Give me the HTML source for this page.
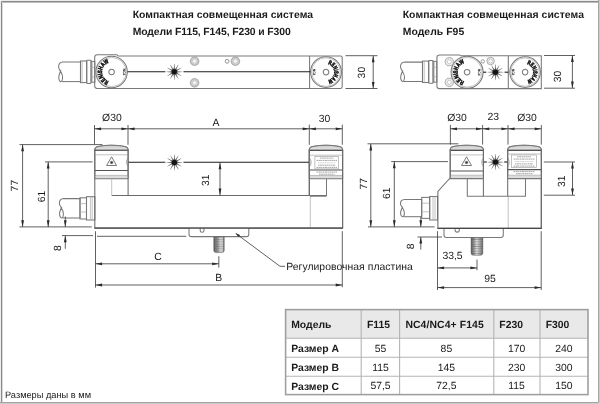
<!DOCTYPE html>
<html>
<head>
<meta charset="utf-8">
<title>NC4 F-series dimensions</title>
<style>
html,body{margin:0;padding:0;background:#fff;}
body{width:600px;height:404px;overflow:hidden;font-family:"Liberation Sans",sans-serif;}
svg{display:block;position:absolute;left:0;top:0;filter:grayscale(1) blur(0.3px);}
text{font-family:"Liberation Sans",sans-serif;fill:#1a1a1a;text-rendering:geometricPrecision;}
.b{font-weight:bold;}
.t{font-size:10.4px;}
.d{stroke:#383838;stroke-width:0.8;fill:none;}
.o{stroke:#787878;stroke-width:1.05;fill:none;}
.od{stroke:#6a6a6a;stroke-width:1.05;fill:none;}
.hd{stroke:#525252;stroke-width:1.1;fill:none;}
.l{stroke:#a8a8a8;stroke-width:0.7;fill:none;}
.beam{stroke:#1c1c1c;stroke-width:1.1;fill:none;}
.ah{fill:#2a2a2a;stroke:none;}
.w{fill:#fff;}
</style>
</head>
<body>
<svg width="600" height="404" viewBox="0 0 600 404">
<defs>
  <!-- laser star symbol -->
  <path id="ray" d="M-0.6,-2.4 L0.6,-2.4 L0.14,-8 L-0.14,-8 Z"/>
  <g id="star">
    <g fill="#606060"><use href="#ray" transform="rotate(0)"/><use href="#ray" transform="rotate(30)"/><use href="#ray" transform="rotate(60)"/><use href="#ray" transform="rotate(90)"/><use href="#ray" transform="rotate(120)"/><use href="#ray" transform="rotate(150)"/><use href="#ray" transform="rotate(180)"/><use href="#ray" transform="rotate(210)"/><use href="#ray" transform="rotate(240)"/><use href="#ray" transform="rotate(270)"/><use href="#ray" transform="rotate(300)"/><use href="#ray" transform="rotate(330)"/></g>
    <circle r="3.5" fill="#666" opacity="0.5"/>
    <circle r="2.7" fill="#141414"/>
  </g>
  <!-- warning triangle -->
  <g id="tri">
    <path d="M0,-4.8 L5,3.9 L-5,3.9 Z" fill="#fff" stroke="#5a5a5a" stroke-width="0.8" stroke-linejoin="round"/>
    <circle cx="0" cy="1" r="1.25" fill="#222"/>
    <circle cx="0" cy="1" r="2" fill="#777" opacity="0.35"/>
  </g>
  <radialGradient id="hole"><stop offset="0" stop-color="#fff"/><stop offset="0.22" stop-color="#f4f4f4"/><stop offset="0.4" stop-color="#d6d6d6"/><stop offset="0.8" stop-color="#c6c6c6"/><stop offset="1" stop-color="#a2a2a2"/></radialGradient>
  <linearGradient id="studg" x1="0" x2="1" y1="0" y2="0"><stop offset="0" stop-color="#505050"/><stop offset="0.12" stop-color="#7a7a7a"/><stop offset="0.3" stop-color="#a6a6a6"/><stop offset="0.48" stop-color="#dedede"/><stop offset="0.68" stop-color="#b4b4b4"/><stop offset="0.88" stop-color="#8e8e8e"/><stop offset="1" stop-color="#5a5a5a"/></linearGradient>
  <linearGradient id="studg2" x1="0" x2="1" y1="0" y2="0"><stop offset="0" stop-color="#4a4a4a"/><stop offset="0.1" stop-color="#777"/><stop offset="0.35" stop-color="#8e8e8e"/><stop offset="0.5" stop-color="#b0b0b0"/><stop offset="0.62" stop-color="#d4d4d4"/><stop offset="0.85" stop-color="#c6c6c6"/><stop offset="0.93" stop-color="#8a8a8a"/><stop offset="1" stop-color="#505050"/></linearGradient>
  <linearGradient id="domeg" x1="0" x2="0" y1="0" y2="1"><stop offset="0" stop-color="#cacaca"/><stop offset="1" stop-color="#e6e6e6"/></linearGradient>
  <pattern id="thr" width="4" height="2.3" patternUnits="userSpaceOnUse"><rect width="4" height="0.7" fill="#444" opacity="0.45"/></pattern>
  <path id="arcL" d="M -2.9,9.1 A 9.55,9.55 0 0 1 -2.9,-9.1"/>
  <path id="arcR" d="M 1.98,-7.96 A 8.2,8.2 0 0 1 2.26,7.88"/>
</defs>

<rect x="0" y="0" width="600" height="404" fill="#fff"/>

<!-- ======== TITLES ======== -->
<text class="b t" x="132.7" y="18.3" textLength="180.3" lengthAdjust="spacing">Компактная совмещенная система</text>
<text class="b t" x="132.7" y="35" textLength="158" lengthAdjust="spacing">Модели F115, F145, F230 и F300</text>
<text class="b t" x="402.7" y="18.3" textLength="181.3" lengthAdjust="spacing">Компактная совмещенная система</text>
<text class="b t" x="402.7" y="35" textLength="61.5" lengthAdjust="spacing">Модель F95</text>

<!-- ======== LEFT TOP VIEW ======== -->
<g id="topL">
  <!-- cable -->
  <path class="o" d="M80.5,81.6 V62.0 H62.8 Q58.6,62.2 58.6,66.9 C58.6,69.8 62.8,72.8 62.6,77.3 C62.5,80.0 61.8,81.6 60.8,81.6 C59.4,81.6 58.7,79.2 58.8,76.7 C59.0,73.8 60.4,71.8 61.0,70.3"/>
  <path class="o" d="M62.0,81.6 H80.5"/>
  <rect class="o" x="80.5" y="61" width="6.2" height="21.6"/>
  <line class="l" x1="82.1" y1="61" x2="82.1" y2="82.6"/>
  <rect class="o" x="86.7" y="60.2" width="4.4" height="23.2" rx="0.8"/>
  <rect class="o" x="91.1" y="61.4" width="3.7" height="20.8"/>
  <line class="l" x1="92.3" y1="61.4" x2="92.3" y2="82.2"/>
  <line class="l" x1="91.1" y1="67.5" x2="94.8" y2="67.5"/>
  <line class="l" x1="91.1" y1="77" x2="94.8" y2="77"/>
  <!-- bar -->
  <path class="o" d="M118,56 H340.6 Q342.2,56 342.2,57.6 V86.8 Q342.2,88.4 340.6,88.4 H97 Q94.7,88.4 94.7,86.1 V57.2 Q94.7,54.7 97.4,54.7 H117 L118,56"/>
  <line class="o" x1="309.6" y1="56" x2="309.6" y2="88.4"/>
  <!-- left dial -->
  <g transform="translate(111.6,72)">
    <circle class="o" r="15.7"/>
    <circle class="l" r="14.6"/>
    <circle class="o" r="2.8" stroke-width="0.7"/>
    <text font-size="6.1" font-weight="bold" fill="#111" stroke="#111" stroke-width="0.6" textLength="24" lengthAdjust="spacingAndGlyphs"><textPath href="#arcL" startOffset="0">RENISHAW</textPath></text>
    <text font-size="3.4" fill="#333" stroke="#333" stroke-width="0.15" transform="translate(11,0) rotate(90)" text-anchor="middle">NC4</text>
  </g>
  <!-- right dial -->
  <g transform="translate(326,72.1)">
    <circle class="o" r="15.4"/>
    <circle class="l" r="14.3"/>
    <circle class="o" r="2.8" stroke-width="0.7"/>
    <text font-size="6.1" font-weight="bold" fill="#111" stroke="#111" stroke-width="0.6" textLength="21.5" lengthAdjust="spacingAndGlyphs"><textPath href="#arcR" startOffset="0">RENISHAW</textPath></text>
    <text font-size="3.4" fill="#333" stroke="#333" stroke-width="0.15" transform="translate(-13.2,0) rotate(90)" text-anchor="middle">NC4</text>
  </g>
  <!-- beam -->
  <line class="beam" x1="127.5" y1="71.7" x2="165.3" y2="71.7"/>
  <line class="beam" x1="183.5" y1="71.7" x2="310.4" y2="71.7"/>
  <use href="#star" x="174.3" y="71.8"/>
  <!-- holes -->
  <g fill="url(#hole)" stroke="#9a9a9a" stroke-width="0.5">
    <circle cx="194.6" cy="61.2" r="4.4"/><circle cx="194.6" cy="82.8" r="4.4"/><circle cx="235.4" cy="61.2" r="4.4"/>
  </g>
  <circle cx="227.1" cy="61.3" r="1.9" fill="#fff" stroke="#777" stroke-width="0.8"/>
  <!-- dim 30 -->
  <line class="d" x1="345.5" y1="55.7" x2="377.5" y2="55.7"/>
  <line class="d" x1="345.5" y1="88.5" x2="377.5" y2="88.5"/>
  <line class="d" x1="373.2" y1="55.7" x2="373.2" y2="88.5"/>
  <path class="ah" d="M373.2,55.7 l-1.4,6.6 h2.8z M373.2,88.5 l-1.4,-6.6 h2.8z"/>
  <text class="t" transform="translate(364.8,72.6) rotate(-90)" text-anchor="middle">30</text>
</g>

<!-- ======== LEFT SIDE VIEW ======== -->
<g id="sideL">
  <!-- cable -->
  <path class="o" d="M80.0,218.0 V198.6 H63.6 Q59.4,198.8 59.4,203.4 C59.4,206.4 63.6,209.3 63.4,213.7 C63.3,216.4 62.6,218.0 61.6,218.0 C60.2,218.0 59.5,215.7 59.6,213.2 C59.8,210.2 61.2,208.3 61.8,206.9"/>
  <path class="o" d="M62.8,218.0 H80.0"/>
  <rect class="o" x="80" y="197.8" width="6.5" height="21.2"/>
  <line class="l" x1="80" y1="203.6" x2="86.5" y2="203.6"/>
  <line class="l" x1="80" y1="212" x2="86.5" y2="212"/>
  <rect class="o" x="86.5" y="196.7" width="8.4" height="23.3"/>
  <line class="l" x1="90.4" y1="196.7" x2="90.4" y2="220"/>
  <line class="l" x1="92.2" y1="196.7" x2="92.2" y2="220"/>

  <!-- transmitter head -->
  <path class="o w" d="M94.8,178.8 V150 Q94.8,147 98.2,146.4 Q111.4,144.3 124.7,146.4 Q128.1,147 128.1,150 V178.8"/>
  <path d="M94.8,150.2 Q94.8,147 98.2,146.4 Q111.4,144.3 124.7,146.4 Q128.1,147 128.1,150.2 Z" fill="url(#domeg)" stroke="#787878" stroke-width="1.05"/>
  <rect x="95.2" y="175.6" width="32.5" height="3.2" fill="#dcdcdc"/>
  <line class="hd" x1="94.8" y1="150.2" x2="128.1" y2="150.2"/>
  <line class="l" x1="94.8" y1="154.8" x2="128.1" y2="154.8"/>
  <line class="hd" x1="94.8" y1="170.5" x2="128.1" y2="170.5"/>
  <line class="l" x1="94.8" y1="175.4" x2="128.1" y2="175.4"/>
  <line class="o" x1="94.8" y1="178.8" x2="128.1" y2="178.8"/>
  <use href="#tri" x="111.6" y="161.6"/>
  <path d="M128.1,158.2 Q124.6,162.2 128.1,166.3 Z" fill="#e4e4e4" stroke="#888" stroke-width="0.6"/>
  <!-- body and bar -->
  <path class="od" d="M94.8,149.5 V228 H342.6 V149.5"/>
  <line class="od" x1="128.1" y1="149.5" x2="128.1" y2="195.4"/>
  <line class="od" x1="111.7" y1="195.4" x2="326.5" y2="195.4"/>
  <line class="l" x1="111.7" y1="178.8" x2="111.7" y2="195.4"/>
  <line class="od" x1="309.3" y1="149.5" x2="309.3" y2="195.4"/>
  <line class="l" x1="310.3" y1="195.4" x2="310.3" y2="228"/>
  <line class="o" x1="326.5" y1="178.8" x2="326.5" y2="196"/>
  <line class="o" x1="310" y1="196.2" x2="326.5" y2="196.2"/>

  <!-- receiver head -->
  <path class="o w" d="M309.3,178.8 V150 Q309.3,147 312.7,146.4 Q326.0,144.3 339.2,146.4 Q342.6,147 342.6,150 V178.8"/>
  <path d="M309.3,150.2 Q309.3,147 312.7,146.4 Q326.0,144.3 339.2,146.4 Q342.6,147 342.6,150.2 Z" fill="url(#domeg)" stroke="#787878" stroke-width="1.05"/>
  <rect x="309.7" y="175.7" width="32.5" height="3.1" fill="#dcdcdc"/>
  <line class="hd" x1="309.3" y1="150.4" x2="342.6" y2="150.4"/>
  <line class="l" x1="309.3" y1="155.2" x2="342.6" y2="155.2"/>
  <line class="hd" x1="309.3" y1="170" x2="342.6" y2="170"/>
  <line class="l" x1="309.3" y1="175.5" x2="342.6" y2="175.5"/>
  <line class="o" x1="309.3" y1="178.8" x2="342.6" y2="178.8"/>
  <rect x="314.9" y="156.6" width="23.5" height="12.3" fill="#fff" stroke="#999" stroke-width="0.6"/>
  <g stroke="#666" stroke-width="0.6" stroke-dasharray="1.6 0.5 2.2 0.4 1.2 0.5">
    <line x1="320" y1="158.1" x2="333.5" y2="158.1"/>
    <line x1="316.5" y1="160.4" x2="337" y2="160.4"/>
    <line x1="318" y1="165.2" x2="335.5" y2="165.2"/>
    <line x1="316.5" y1="167.4" x2="337" y2="167.4"/>
    <line x1="316.5" y1="172.1" x2="337" y2="172.1"/>
    <line x1="319" y1="174.2" x2="334.5" y2="174.2"/>
  </g>
  <line x1="318" y1="162.8" x2="335.5" y2="162.8" stroke="#bbb" stroke-width="0.6" stroke-dasharray="1.6 0.5 2.2 0.4"/>
  <path d="M309.3,157.8 Q313.2,162.3 309.3,167 Z" fill="#e4e4e4" stroke="#888" stroke-width="0.6"/>
  <path class="od" d="M309.3,149.5 V195.4 M342.6,149.5 V228"/>

  <!-- beam -->
  <line class="beam" x1="128.6" y1="162.3" x2="165.3" y2="162.3"/>
  <line class="beam" x1="183.5" y1="162.3" x2="308.9" y2="162.3"/>
  <use href="#star" x="174.4" y="162.4"/>

  <!-- adjuster plate -->
  <path class="o w" d="M189,228.2 V234.2 Q189,236.6 191.4,236.6 H246.4 Q248.8,236.6 248.8,234.2 V228.2"/>
  <path class="o" d="M200.2,228.2 V230.4 Q200.2,232.2 202.1,232.2 Q204,232.2 204,230.4 V228.2" stroke-width="0.8"/>
  <line x1="94.4" y1="228.1" x2="343" y2="228.1" stroke="#484848" stroke-width="1.35"/>
  <!-- stud -->
  <path d="M213.8,237 H224.2 V250.3 Q224.2,252.6 221.9,252.6 H216.1 Q213.8,252.6 213.8,250.3 Z" fill="url(#studg2)" stroke="#555" stroke-width="0.5"/>
  <rect x="214" y="237.8" width="10" height="14" fill="url(#thr)" opacity="0.6"/>

  <!-- dimension lines -->
  <!-- top O30 / A / 30 -->
  <line class="d" x1="94.5" y1="125" x2="94.5" y2="144.4"/>
  <line class="d" x1="128" y1="125" x2="128" y2="144.8"/>
  <line class="d" x1="309.3" y1="124.6" x2="309.3" y2="144.8"/>
  <line class="d" x1="342.3" y1="124.6" x2="342.3" y2="144.8"/>
  <line class="d" x1="94.5" y1="128.8" x2="342.3" y2="128.8"/>
  <path class="ah" d="M94.5,128.8 l6.6,-1.4 v2.8z M128,128.8 l-6.6,-1.4 v2.8z M128,128.8 l6.6,-1.4 v2.8z M309.3,128.8 l-6.6,-1.4 v2.8z M309.3,128.8 l6.6,-1.4 v2.8z M342.3,128.8 l-6.6,-1.4 v2.8z"/>
  <text class="t" x="111.9" y="121.3" text-anchor="middle">Ø30</text>
  <text class="t" x="216" y="125.5" text-anchor="middle">A</text>
  <text class="t" x="324.6" y="121.6" text-anchor="middle">30</text>
  <!-- 77 -->
  <line class="d" x1="19.5" y1="144.6" x2="102.5" y2="144.6"/>
  <line class="d" x1="19.5" y1="226.9" x2="91.8" y2="226.9"/>
  <line class="d" x1="22.6" y1="144.6" x2="22.6" y2="226.9"/>
  <path class="ah" d="M22.6,144.6 l-1.4,6.6 h2.8z M22.6,226.9 l-1.4,-6.6 h2.8z"/>
  <text class="t" transform="translate(18.2,185.6) rotate(-90)" text-anchor="middle">77</text>
  <!-- 61 -->
  <line class="d" x1="45" y1="161.9" x2="92.6" y2="161.9"/>
  <line class="d" x1="48.2" y1="161.9" x2="48.2" y2="226.9"/>
  <path class="ah" d="M48.2,161.9 l-1.4,6.6 h2.8z M48.2,226.9 l-1.4,-6.6 h2.8z"/>
  <text class="t" transform="translate(44.9,196.4) rotate(-90)" text-anchor="middle">61</text>
  <!-- 8 -->
  <line class="d" x1="65.3" y1="216.5" x2="65.3" y2="226.9"/>
  <path class="ah" d="M65.3,226.9 l-1.4,-6.6 h2.8z"/>
  <line class="d" x1="62" y1="235.6" x2="93" y2="235.6"/>
  <line class="d" x1="97" y1="236.3" x2="186.3" y2="236.3"/>
  <line class="d" x1="65.3" y1="235.6" x2="65.3" y2="248.8"/>
  <path class="ah" d="M65.3,235.6 l-1.4,6.6 h2.8z"/>
  <text class="t" transform="translate(61,248.2) rotate(-90)" text-anchor="middle">8</text>
  <!-- 31 -->
  <line class="d" x1="220" y1="162.6" x2="220" y2="195.2"/>
  <path class="ah" d="M220,162.7 l-1.4,6.6 h2.8z M220,195.2 l-1.4,-6.6 h2.8z"/>
  <text class="t" transform="translate(209.2,180.2) rotate(-90)" text-anchor="middle">31</text>
  <!-- C, B -->
  <line class="d" x1="95.5" y1="231.2" x2="95.5" y2="287.6"/>
  <line class="d" x1="342.3" y1="231.2" x2="342.3" y2="287.2"/>
  <line class="d" x1="95.5" y1="263.8" x2="218.8" y2="263.8"/>
  <line class="d" x1="218.8" y1="256.2" x2="218.8" y2="267.6"/>
  <path class="ah" d="M95.5,263.8 l6.6,-1.4 v2.8z M218.8,263.8 l-6.6,-1.4 v2.8z"/>
  <line class="d" x1="95.5" y1="285" x2="342.3" y2="285"/>
  <path class="ah" d="M95.5,285 l6.6,-1.4 v2.8z M342.3,285 l-6.6,-1.4 v2.8z"/>
  <text class="t" x="158" y="259.8" text-anchor="middle">C</text>
  <text class="t" x="218.8" y="281.2" text-anchor="middle">B</text>
  <!-- leader -->
  <path class="d" d="M236.4,233.9 L280,266.3 H285"/>
  <path class="ah" d="M235.2,233 l4.8,2 l-1.4,1.9z"/>
  <text class="t" x="286.2" y="270" textLength="126.6" lengthAdjust="spacing">Регулировочная пластина</text>
</g>

<!-- ======== RIGHT TOP VIEW (F95) ======== -->
<g id="topR">
  <path class="o" d="M422.5,81.5 V62.1 H404.7 Q400.5,62.3 400.5,67.0 C400.5,69.9 404.7,72.8 404.5,77.2 C404.4,79.9 403.7,81.5 402.7,81.5 C401.3,81.5 400.6,79.2 400.7,76.7 C400.9,73.7 402.3,71.8 402.9,70.4"/>
  <path class="o" d="M403.9,81.5 H422.5"/>
  <rect class="o" x="422.5" y="61.1" width="6.2" height="21.4"/>
  <line class="l" x1="424.2" y1="61.1" x2="424.2" y2="82.5"/>
  <rect class="o" x="428.7" y="60.4" width="4.4" height="22.8" rx="0.8"/>
  <rect class="o" x="433.1" y="61.4" width="3.7" height="20.8"/>
  <line class="l" x1="434.3" y1="61.4" x2="434.3" y2="82.2"/>
  <line class="l" x1="433.1" y1="67.3" x2="436.8" y2="67.3"/>
  <line class="l" x1="433.1" y1="76.8" x2="436.8" y2="76.8"/>
  <path class="o" d="M460.5,55.7 H541.3 V88.6 H439.2 Q436.9,88.6 436.9,86.3 V57.4 Q436.9,54.9 439.6,54.9 H459.5 L460.5,55.7"/>
  <line class="o" x1="508.3" y1="55.7" x2="508.3" y2="88.6"/>
  <g transform="translate(467.1,72.2)">
    <circle class="o" r="16"/>
    <circle class="l" r="14.9"/>
    <circle class="o" r="2.8" stroke-width="0.7"/>
    <text font-size="6.1" font-weight="bold" fill="#111" stroke="#111" stroke-width="0.6" textLength="24" lengthAdjust="spacingAndGlyphs"><textPath href="#arcL" startOffset="0">RENISHAW</textPath></text>
    <text font-size="3.4" fill="#333" stroke="#333" stroke-width="0.15" transform="translate(11,0) rotate(90)" text-anchor="middle">NC4</text>
  </g>
  <g transform="translate(525.1,72.1)">
    <circle class="o" r="15.3"/>
    <circle class="l" r="14.2"/>
    <circle class="o" r="2.8" stroke-width="0.7"/>
    <text font-size="6.1" font-weight="bold" fill="#111" stroke="#111" stroke-width="0.6" textLength="21.5" lengthAdjust="spacingAndGlyphs"><textPath href="#arcR" startOffset="0">RENISHAW</textPath></text>
    <text font-size="3.4" fill="#333" stroke="#333" stroke-width="0.15" transform="translate(-13.2,0) rotate(90)" text-anchor="middle">NC4</text>
  </g>
  <g fill="#ececec" stroke="#999" stroke-width="0.8">
    <circle cx="449.3" cy="61.7" r="4.1"/><circle cx="449.3" cy="82.3" r="4.1"/><circle cx="490.6" cy="61" r="3.7"/>
  </g>
  <g fill="#fff" stroke="#b0b0b0" stroke-width="0.6">
    <circle cx="449.3" cy="61.7" r="2"/><circle cx="449.3" cy="82.3" r="2"/><circle cx="490.6" cy="61" r="1.9"/>
  </g>
  <circle cx="482.8" cy="61.4" r="1.7" fill="#fff" stroke="#777" stroke-width="0.7"/>
  <line class="beam" x1="483.2" y1="72.2" x2="486.2" y2="72.2"/>
  <line class="beam" x1="504.6" y1="72.2" x2="508.4" y2="72.2"/>
  <use href="#star" x="495.4" y="72.2"/>
  <line class="d" x1="544" y1="55.5" x2="575" y2="55.5"/>
  <line class="d" x1="544" y1="88.2" x2="575" y2="88.2"/>
  <line class="d" x1="572.4" y1="55.5" x2="572.4" y2="88.2"/>
  <path class="ah" d="M572.4,55.5 l-1.4,6.6 h2.8z M572.4,88.2 l-1.4,-6.6 h2.8z"/>
  <text class="t" transform="translate(561.4,76.5) rotate(-90)" text-anchor="middle">30</text>
</g>

<!-- ======== RIGHT SIDE VIEW (F95) ======== -->
<g id="sideR">
  <!-- cable -->
  <path class="o" d="M421.7,216.7 V199.4 H404.6 Q400.4,199.6 400.4,203.7 C400.4,206.3 404.6,208.9 404.4,212.9 C404.3,215.3 403.6,216.7 402.6,216.7 C401.2,216.7 400.5,214.6 400.6,212.4 C400.8,209.8 402.2,208.1 402.8,206.8"/>
  <path class="o" d="M403.8,216.7 H421.7"/>
  <rect class="o" x="421.7" y="197.4" width="8" height="21"/>
  <line class="l" x1="421.7" y1="203.2" x2="429.7" y2="203.2"/>
  <line class="l" x1="421.7" y1="211.8" x2="429.7" y2="211.8"/>
  <rect class="o" x="429.7" y="196.5" width="7.8" height="23.5"/>
  <line class="l" x1="433" y1="196.5" x2="433" y2="220"/>
  <line class="l" x1="435" y1="196.5" x2="435" y2="220"/>

  <!-- body -->
  <path class="od" d="M450.2,178.2 L448.2,180 L437.9,191.4 V228.3 H541.3 V149.5"/>
  <line class="l" x1="508.2" y1="196.2" x2="508.2" y2="228.3"/>
  <path class="od" d="M483.4,178.6 V196.2 M507.7,178.6 V196.2"/>
  <path class="o" d="M467.3,178.6 V196.2 H525.5 V178.6"/>

  <!-- transmitter head -->
  <path class="o w" d="M450.2,178.6 V150 Q450.2,147 453.6,146.4 Q466.8,144.3 480.0,146.4 Q483.4,147 483.4,150 V178.6"/>
  <path d="M450.2,150.2 Q450.2,147 453.6,146.4 Q466.8,144.3 480.0,146.4 Q483.4,147 483.4,150.2 Z" fill="url(#domeg)" stroke="#787878" stroke-width="1.05"/>
  <rect x="450.6" y="175.4" width="32.4" height="3.2" fill="#dcdcdc"/>
  <line class="hd" x1="450.2" y1="150.4" x2="483.4" y2="150.4"/>
  <line class="l" x1="450.2" y1="154.9" x2="483.4" y2="154.9"/>
  <line class="hd" x1="450.2" y1="171" x2="483.4" y2="171"/>
  <line class="l" x1="450.2" y1="175.2" x2="483.4" y2="175.2"/>
  <line class="o" x1="450.2" y1="178.6" x2="483.4" y2="178.6"/>
  <use href="#tri" x="466.5" y="161.6"/>
  <path d="M483.4,158 Q479.9,162 483.4,166.2 Z" fill="#e4e4e4" stroke="#888" stroke-width="0.6"/>
  <path class="od" d="M450.2,149.5 V178.6 M483.4,149.5 V178.6"/>

  <!-- receiver head -->
  <path class="o w" d="M507.7,178.6 V150 Q507.7,147 510.6,146.4 Q524.2,144.3 537.9,146.4 Q541.3,147 541.3,150 V178.6"/>
  <path d="M507.7,150.2 Q507.7,147 511.1,146.4 Q524.5,144.3 537.9,146.4 Q541.3,147 541.3,150.2 Z" fill="url(#domeg)" stroke="#787878" stroke-width="1.05"/>
  <rect x="507.6" y="175.4" width="33.3" height="3.2" fill="#dcdcdc"/>
  <line class="hd" x1="507.7" y1="150.4" x2="541.3" y2="150.4"/>
  <line class="l" x1="507.7" y1="154" x2="541.3" y2="154"/>
  <line class="hd" x1="507.7" y1="169.6" x2="541.3" y2="169.6"/>
  <line class="l" x1="507.7" y1="175.2" x2="541.3" y2="175.2"/>
  <line class="o" x1="507.7" y1="178.6" x2="541.3" y2="178.6"/>
  <rect x="511.6" y="155" width="25" height="12.6" fill="#fff" stroke="#999" stroke-width="0.6"/>
  <g stroke="#666" stroke-width="0.6" stroke-dasharray="1.6 0.5 2.2 0.4 1.2 0.5">
    <line x1="517" y1="156.8" x2="531" y2="156.8"/>
    <line x1="513.5" y1="159.1" x2="535" y2="159.1"/>
    <line x1="515" y1="163.9" x2="533" y2="163.9"/>
    <line x1="513.5" y1="166.1" x2="535" y2="166.1"/>
    <line x1="513.5" y1="171.6" x2="535" y2="171.6"/>
    <line x1="516" y1="173.7" x2="532.5" y2="173.7"/>
  </g>
  <line x1="515" y1="161.5" x2="533" y2="161.5" stroke="#bbb" stroke-width="0.6" stroke-dasharray="1.6 0.5 2.2 0.4"/>
  <path d="M507.7,157.8 Q510.9,162.2 507.7,166.8 Z" fill="#e4e4e4" stroke="#888" stroke-width="0.6"/>
  <path class="od" d="M507.7,149.5 V178.6 M541.3,149.5 V228.3"/>

  <!-- beam -->
  <line class="beam" x1="483.8" y1="162" x2="486.8" y2="162"/>
  <line class="beam" x1="504.2" y1="162" x2="507.4" y2="162"/>
  <use href="#star" x="495.5" y="162.1"/>

  <!-- plate -->
  <path class="o w" d="M444,228.4 V235.1 Q444,237.5 446.4,237.5 H500.9 Q503.3,237.5 503.3,235.1 V228.4"/>
  <path class="o" d="M455.1,228.4 V230.3 Q455.1,232.1 457.2,232.1 Q459.3,232.1 459.3,230.3 V228.4" stroke-width="0.8"/>
  <line x1="437.5" y1="228.4" x2="541.7" y2="228.4" stroke="#484848" stroke-width="1.35"/>
  <path d="M471.1,237.8 H482.8 V253 Q482.8,255.3 480.5,255.3 H473.4 Q471.1,255.3 471.1,253 Z" fill="url(#studg)" stroke="#555" stroke-width="0.5"/>
  <rect x="471.3" y="238.6" width="11.3" height="16" fill="url(#thr)"/>

  <!-- dims top -->
  <line class="d" x1="450.4" y1="125" x2="450.4" y2="144.6"/>
  <line class="d" x1="482.6" y1="125" x2="482.6" y2="144.6"/>
  <line class="d" x1="508" y1="125" x2="508" y2="144.6"/>
  <line class="d" x1="541.3" y1="125" x2="541.3" y2="144.6"/>
  <line class="d" x1="450.4" y1="128.8" x2="541.3" y2="128.8"/>
  <path class="ah" d="M450.4,128.8 l6.6,-1.4 v2.8z M482.6,128.8 l-6.6,-1.4 v2.8z M482.6,128.8 l6.6,-1.4 v2.8z M508,128.8 l-6.6,-1.4 v2.8z M508,128.8 l6.6,-1.4 v2.8z M541.3,128.8 l-6.6,-1.4 v2.8z"/>
  <text class="t" x="457" y="121.3" text-anchor="middle">Ø30</text>
  <text class="t" x="493.3" y="120.2" text-anchor="middle">23</text>
  <text class="t" x="527" y="121.3" text-anchor="middle">Ø30</text>
  <!-- 77 -->
  <line class="d" x1="367.5" y1="143.8" x2="458.4" y2="143.8"/>
  <line class="d" x1="368" y1="226.9" x2="434.6" y2="226.9"/>
  <line class="d" x1="370.8" y1="143.8" x2="370.8" y2="226.9"/>
  <path class="ah" d="M370.8,143.8 l-1.4,6.6 h2.8z M370.8,226.9 l-1.4,-6.6 h2.8z"/>
  <text class="t" transform="translate(366.8,183.8) rotate(-90)" text-anchor="middle">77</text>
  <!-- 61 -->
  <line class="d" x1="391.2" y1="161.6" x2="448" y2="161.6"/>
  <line class="d" x1="394.3" y1="161.6" x2="394.3" y2="226.9"/>
  <path class="ah" d="M394.3,161.6 l-1.4,6.6 h2.8z M394.3,226.9 l-1.4,-6.6 h2.8z"/>
  <text class="t" transform="translate(390,193.2) rotate(-90)" text-anchor="middle">61</text>
  <!-- 8 -->
  <line class="d" x1="420.8" y1="216.8" x2="420.8" y2="226.9"/>
  <path class="ah" d="M420.8,226.9 l-1.4,-6.6 h2.8z"/>
  <line class="d" x1="417.5" y1="237" x2="442" y2="237"/>
  <line class="d" x1="420.8" y1="237" x2="420.8" y2="249.5"/>
  <path class="ah" d="M420.8,237 l-1.4,6.6 h2.8z"/>
  <text class="t" transform="translate(413.7,246.3) rotate(-90)" text-anchor="middle">8</text>
  <!-- 31 -->
  <line class="d" x1="543.8" y1="162" x2="575" y2="162"/>
  <line class="d" x1="543.8" y1="195.2" x2="575" y2="195.2"/>
  <line class="d" x1="572.5" y1="162" x2="572.5" y2="195.2"/>
  <path class="ah" d="M572.5,162 l-1.4,6.6 h2.8z M572.5,195.2 l-1.4,-6.6 h2.8z"/>
  <text class="t" transform="translate(565,181.3) rotate(-90)" text-anchor="middle">31</text>
  <!-- 33,5 and 95 -->
  <line class="d" x1="437.5" y1="231.2" x2="437.5" y2="290"/>
  <line class="d" x1="541.2" y1="231.2" x2="541.2" y2="290"/>
  <line class="d" x1="437.5" y1="267.9" x2="477" y2="267.9"/>
  <line class="d" x1="477" y1="259.5" x2="477" y2="270.2"/>
  <path class="ah" d="M437.5,267.9 l6.6,-1.4 v2.8z M477,267.9 l-6.6,-1.4 v2.8z"/>
  <line class="d" x1="437.5" y1="287.6" x2="541.2" y2="287.6"/>
  <path class="ah" d="M437.5,287.6 l6.6,-1.4 v2.8z M541.2,287.6 l-6.6,-1.4 v2.8z"/>
  <text class="t" x="452.5" y="258.8" text-anchor="middle">33,5</text>
  <text class="t" x="490" y="282" text-anchor="middle">95</text>
</g>

<!-- ======== TABLE ======== -->
<g id="tbl">
  <rect x="285.4" y="309.4" width="302.6" height="28.8" fill="#e9e9e9"/>
  <g stroke="#b4b4b4" stroke-width="1.1" fill="none">
    <line x1="285.4" y1="338.2" x2="588" y2="338.2"/>
    <line x1="285.4" y1="357.2" x2="588" y2="357.2"/>
    <line x1="285.4" y1="376.2" x2="588" y2="376.2"/>
    <line x1="361.2" y1="309" x2="361.2" y2="395"/>
    <line x1="399.6" y1="309" x2="399.6" y2="395"/>
    <line x1="493.8" y1="309" x2="493.8" y2="395"/>
    <line x1="540" y1="309" x2="540" y2="395"/>
  </g>
  <rect x="285.6" y="309.6" width="302.4" height="85" fill="none" stroke="#9e9e9e" stroke-width="1.55"/>
  <g class="b t">
    <text x="291.2" y="328.3">Модель</text>
    <text x="367" y="328.3">F115</text>
    <text x="405.4" y="328.3" textLength="78.3" lengthAdjust="spacing">NC4/NC4+ F145</text>
    <text x="499.3" y="328.3">F230</text>
    <text x="545.7" y="328.3">F300</text>
    <text x="291.2" y="351.7">Размер A</text>
    <text x="291.2" y="370.7">Размер B</text>
    <text x="291.2" y="389.6">Размер C</text>
  </g>
  <g class="t" text-anchor="middle">
    <text x="380.5" y="351.6">55</text><text x="446.4" y="351.6">85</text><text x="516.6" y="351.6">170</text><text x="563.8" y="351.6">240</text>
    <text x="380.5" y="370.5">115</text><text x="446.4" y="370.5">145</text><text x="516.6" y="370.5">230</text><text x="563.8" y="370.5">300</text>
    <text x="380.5" y="389.4">57,5</text><text x="446.4" y="389.4">72,5</text><text x="516.6" y="389.4">115</text><text x="563.8" y="389.4">150</text>
  </g>
</g>

<text x="5" y="398" font-size="9.25" textLength="86" lengthAdjust="spacing">Размеры даны в мм</text>

<!-- frame -->
<g fill="none">
  <path d="M0.5,404 V0.5 H600" stroke="#ececec" stroke-width="1"/>
  <path d="M1.5,404 V1.5 H600" stroke="#8a8a8a" stroke-width="1"/>
  <path d="M2.5,404 V2.5" stroke="#dadada" stroke-width="1"/>
  <path d="M2.5,2.5 H600" stroke="#bdbdbd" stroke-width="1"/>
  <path d="M598.5,0 V402.5 H0" stroke="#a4a4a4" stroke-width="1"/>
  <path d="M599.5,0 V403.5 H0" stroke="#cbcbcb" stroke-width="1"/>
</g>
</svg>
</body>
</html>
